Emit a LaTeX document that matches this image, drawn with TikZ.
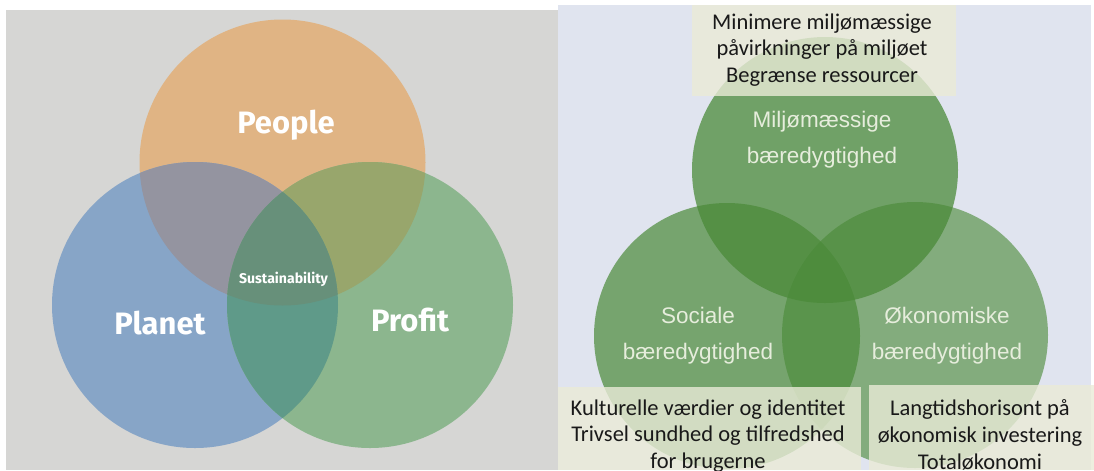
\documentclass[tikz,border=0pt]{standalone}
\usepackage{fontspec}
\setmainfont{Liberation Sans}
\newfontfamily\venfont{Fira Sans}
\newfontfamily\boxfont{Carlito}
\definecolor{bgl}{HTML}{D6D6D4}
\definecolor{bgr}{HTML}{E0E4EF}
\definecolor{cpe}{HTML}{E0B484}
\definecolor{cpl}{HTML}{87A5C7}
\definecolor{cpr}{HTML}{8CB68E}
\definecolor{cpepl}{HTML}{9494A0}
\definecolor{cpepr}{HTML}{98A66C}
\definecolor{cplpr}{HTML}{5F9A89}
\definecolor{call}{HTML}{67907A}
\definecolor{grn}{HTML}{4A8A38}
\definecolor{gtxt}{HTML}{E6EDDC}
\definecolor{boxc}{HTML}{EAEBD7}
\tikzset{%
    big/.style={text=white, font=\venfont\bfseries\fontsize{22}{26}\selectfont},
    small/.style={text=white, font=\venfont\bfseries\fontsize{10}{12}\selectfont},
    gcirc/.style={fill=grn, fill opacity=#1},
    glbl/.style={text=gtxt, align=center, font=\fontsize{16}{25.5}\selectfont},
    blk/.style={fill=boxc, fill opacity=0.8},
    btxt/.style={text=black!90, align=center, font=\boxfont\fontsize{16}{19}\selectfont},
}

\begin{document}
\begin{tikzpicture}[x=0.025cm, y=-0.025cm]
    \useasboundingbox (0,0) rectangle (1094,470);
    \fill [bgl] (6,10) rectangle (558,470);
    \fill [bgr] (558,5) rectangle (1091,470);
    % people, planet, profit
    \def\rad{143}
    \coordinate (pe) at (282.5,162.5);
    \coordinate (pl) at (195,305);
    \coordinate (pr) at (370,305);
    \fill [cpe] (pe) circle[radius=\rad];
    \fill [cpl] (pl) circle[radius=\rad];
    \fill [cpr] (pr) circle[radius=\rad];
    \begin{scope}
        \clip (pe) circle[radius=\rad];
        \fill [cpepl] (pl) circle[radius=\rad];
        \fill [cpepr] (pr) circle[radius=\rad];
    \end{scope}
    \begin{scope}
        \clip (pl) circle[radius=\rad];
        \fill [cplpr] (pr) circle[radius=\rad];
        \clip (pe) circle[radius=\rad];
        \fill [call] (pr) circle[radius=\rad];
    \end{scope}
    \node [big] (people) at (286,125) {People};
    \node [big] (planet) at (160,323) {Planet};
    \node [big] (profit) at (410,320) {Profit};
    \node [small] (sust) at (283.5,279) {Sustainability};
    % three kinds of sustainability
    \def\grad{133}
    \coordinate (mi) at (825,170);
    \coordinate (so) at (727,336);
    \coordinate (ok) at (915,335);
    \fill [gcirc=0.62] (ok) circle[radius=\grad];
    \fill [gcirc=0.70] (so) circle[radius=\grad];
    \fill [gcirc=0.74] (mi) circle[radius=\grad];
    \node [glbl] (mil) at (822,140) {Miljømæssige\\bæredygtighed};
    \node [glbl] (sol) at (698,336) {Sociale\\bæredygtighed};
    \node [glbl] (okl) at (947,336) {Økonomiske\\bæredygtighed};
    % text boxes
    \fill [blk] (692,5) rectangle (956,96);
    \fill [blk] (558,387) rectangle (861,470);
    \fill [blk] (869,385) rectangle (1094,470);
    \node [btxt] (mit) at (822,50) {Minimere miljømæssige\\påvirkninger på miljøet\\Begrænse ressourcer};
    \node [btxt] (sot) at (708,436) {Kulturelle værdier og identitet\\Trivsel sundhed og tilfredshed\\for brugerne};
    \node [btxt] (okt) at (980,435) {Langtidshorisont på\\økonomisk investering\\Totaløkonomi};
\end{tikzpicture}
\end{document}
